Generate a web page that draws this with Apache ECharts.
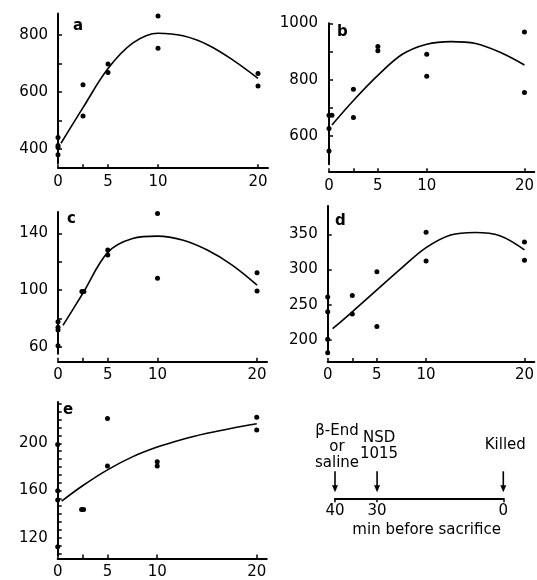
<!DOCTYPE html>
<html>
<head>
<meta charset="utf-8">
<script src="https://cdn.jsdelivr.net/npm/echarts@6/dist/echarts.min.js"></script>
<style>
  html, body { margin: 0; padding: 0; background: #fff; }
  #chart { width: 537px; height: 580px; }
</style>
</head>
<body>
<div id="chart"></div>
<script>
// 数据：每个小图的散点和拟合曲线 (x = min)
const aDots = [[0,440],[0,412],[0,405],[0,380],[2.5,625],[2.5,516],[5,698],[5,668],[10,867],[10,753],[20,665],[20,621]]
const aCurve = [[0.3,420],[2.5,545],[5,682],[7.5,772],[10,806],[12.5,797],[15,765],[17.5,712],[20,648]]

const bDots = [[0,674],[0.3,674],[0,627],[0,547],[2.5,766],[2.5,666],[5,918],[5,903],[10,890],[10,812],[20,969],[20,754]]
const bCurve = [[0.3,639],[2.5,726],[5,815],[7.5,890],[10,926],[12.5,935],[15,928],[17.5,897],[20,852]]

const cDots = [[0,77.6],[0,73.7],[0,71.8],[0,60.7],[2.4,99],[2.6,99],[5,128.2],[5,124.7],[10,154],[10,108.3],[20,112.2],[20,99.3]]
const cCurve = [[0.5,75],[2.5,97.7],[5,126.5],[7.5,136.3],[10,138],[12.5,135.3],[15,128.2],[17.5,117.6],[20,103.5]]

const dDots = [[0,261],[0,240],[0,201],[0,182],[2.5,263],[2.5,237],[5,297],[5,219],[10,353],[10,312],[20,339],[20,313]]
const dCurve = [[0.5,216],[2.5,240],[5,271],[7.5,302],[10,331],[12.5,349],[15,352.6],[17.5,348],[20,328]]

const eDots = [[0,199],[0,159.7],[0,152],[0,112.4],[2.4,144],[2.6,144],[5,221],[5,180.8],[10,184.4],[10,180.8],[20,222],[20,211.3]]
const eCurve = [[0.4,151],[2.5,164],[5,177.5],[7.5,188.5],[10,196.8],[12.5,203.3],[15,208.5],[17.5,212.8],[20,216.5]]

// 刻度
const xTicks = [0,2.5,5,10,20]
const xLabels = [0,5,10,20]
const aTicks = [400,500,600,700,800], aLabels = [400,600,800]
const bTicks = [600,700,800,900,1000], bLabels = [600,800,1000]
const cTicks = [60,80,100,120,140], cLabels = [60,100,140]
const dTicks = [200,250,300,350], dLabels = [200,250,300,350]
const eTicks = [106.7,113.3,120,126.7,133.3,140,146.7,153.3,160,166.7,173.3,180,186.7,193.3,200,206.7,213.3,220,226.7,233.3]
const eLabels = [120,160,200]

// 时间轴
const timeTicks = [40,30,0]
const timeEvents = ['β-End\nor\nsaline','NSD\n1015','Killed']

const font = 'DejaVu Sans'

// 每个小图的位置（像素）
const panels = [
    {name:'a', dots:aDots, curve:aCurve, ticks:aTicks, labels:aLabels, min:350, max:875, left:58, top:13.6, width:210, height:149.6, xOff:5, yOff:6, tl:[73,19]},
    {name:'b', dots:bDots, curve:bCurve, ticks:bTicks, labels:bLabels, min:500, max:1000, left:329, top:23.3, width:208, height:140.9, xOff:8, yOff:7, tl:[337,25]},
    {name:'c', dots:cDots, curve:cCurve, ticks:cTicks, labels:cLabels, min:55, max:155, left:58, top:212, width:209, height:141.8, xOff:8, yOff:6, tl:[67,212]},
    {name:'d', dots:dDots, curve:dCurve, ticks:dTicks, labels:dLabels, min:180, max:390, left:327.7, top:206.1, width:208, height:148, xOff:8, yOff:6, tl:[335,214]},
    {name:'e', dots:eDots, curve:eCurve, ticks:eTicks, labels:eLabels, min:105, max:235, left:57.7, top:402, width:209, height:153.4, xOff:3, yOff:6, tl:[63,403]}
]

let box = document.querySelector('#chart')
let myChart = echarts.init(box)

let grid = [], xAxis = [], yAxis = [], series = [], title = []
let axisLine = {show:true, lineStyle:{color:'#000', width:2}}
let labelStyle = {color:'#000', fontSize:15, fontFamily:font, formatter:function(v){ return String(v) }}

panels.forEach(function(p, i){
    grid.push({left:p.left, top:p.top, width:p.width, height:p.height})
    xAxis.push({
        type:'value', gridIndex:i, min:0, max:21, offset:p.xOff,
        axisLine:axisLine,
        axisTick:{show:true, inside:true, length:4, customValues:xTicks, lineStyle:{color:'#000', width:1.5}},
        axisLabel:Object.assign({customValues:xLabels, margin:6}, labelStyle),
        splitLine:{show:false}
    })
    yAxis.push({
        type:'value', gridIndex:i, min:p.min, max:p.max, offset:p.yOff,
        axisLine:axisLine,
        axisTick:{show:true, inside:true, length:4, customValues:p.ticks, lineStyle:{color:'#000', width:1.5}},
        axisLabel:Object.assign({customValues:p.labels, margin:4}, labelStyle),
        splitLine:{show:false}
    })
    series.push({
        type:'line', xAxisIndex:i, yAxisIndex:i, data:p.curve,
        smooth:0.35, showSymbol:false, lineStyle:{color:'#000', width:1.6}, z:2
    })
    series.push({
        type:'scatter', xAxisIndex:i, yAxisIndex:i, data:p.dots,
        symbolSize:5, itemStyle:{color:'#000', opacity:1}, z:3
    })
    title.push({text:p.name, left:p.tl[0], top:p.tl[1], padding:0,
        textStyle:{fontSize:15, fontWeight:'bold', fontFamily:font, color:'#000'}})
})

// 时间轴小图
let ti = panels.length
grid.push({left:335, top:440, width:168.3, height:58.3})
xAxis.push({
    type:'value', gridIndex:ti, min:0, max:40, inverse:true,
    axisLine:axisLine,
    axisTick:{show:true, length:4, customValues:timeTicks, lineStyle:{color:'#000', width:1.5}},
    axisLabel:Object.assign({customValues:timeTicks, margin:5}, labelStyle),
    splitLine:{show:false},
    name:'min before sacrifice', nameLocation:'middle', nameGap:24,
    nameTextStyle:{padding:[0,0,0,15], color:'#000', fontSize:15, fontFamily:font}
})
yAxis.push({type:'value', gridIndex:ti, min:0, max:1, show:false})
// 文字底部到箭头的距离
let labelLift = [0, 9, 18]
series.push({
    type:'custom', xAxisIndex:ti, yAxisIndex:ti,
    data:timeTicks.map(function(t, k){ return [t, 0, k] }),
    renderItem:function(params, api){
        let pt = api.coord([api.value(0), 0])
        let k = api.value(2)
        let x = pt[0], y = pt[1]
        return {
            type:'group',
            children:[
                {type:'line', shape:{x1:x, y1:y-27, x2:x, y2:y-12},
                    style:{stroke:'#000', lineWidth:1.6}},
                {type:'polygon', shape:{points:[[x-3,y-13],[x+3,y-13],[x,y-6]]},
                    style:{fill:'#000'}},
                {type:'text', x:x+2, y:y-27-labelLift[k],
                    style:{text:timeEvents[k], fill:'#000', fontSize:15, fontFamily:font,
                        align:'center', verticalAlign:'bottom', lineHeight:16}}
            ]
        }
    }
})

let option = {
    backgroundColor:'#fff',
    animation:false,
    title:title,
    grid:grid,
    xAxis:xAxis,
    yAxis:yAxis,
    series:series
}
myChart.setOption(option)
</script>
</body>
</html>
